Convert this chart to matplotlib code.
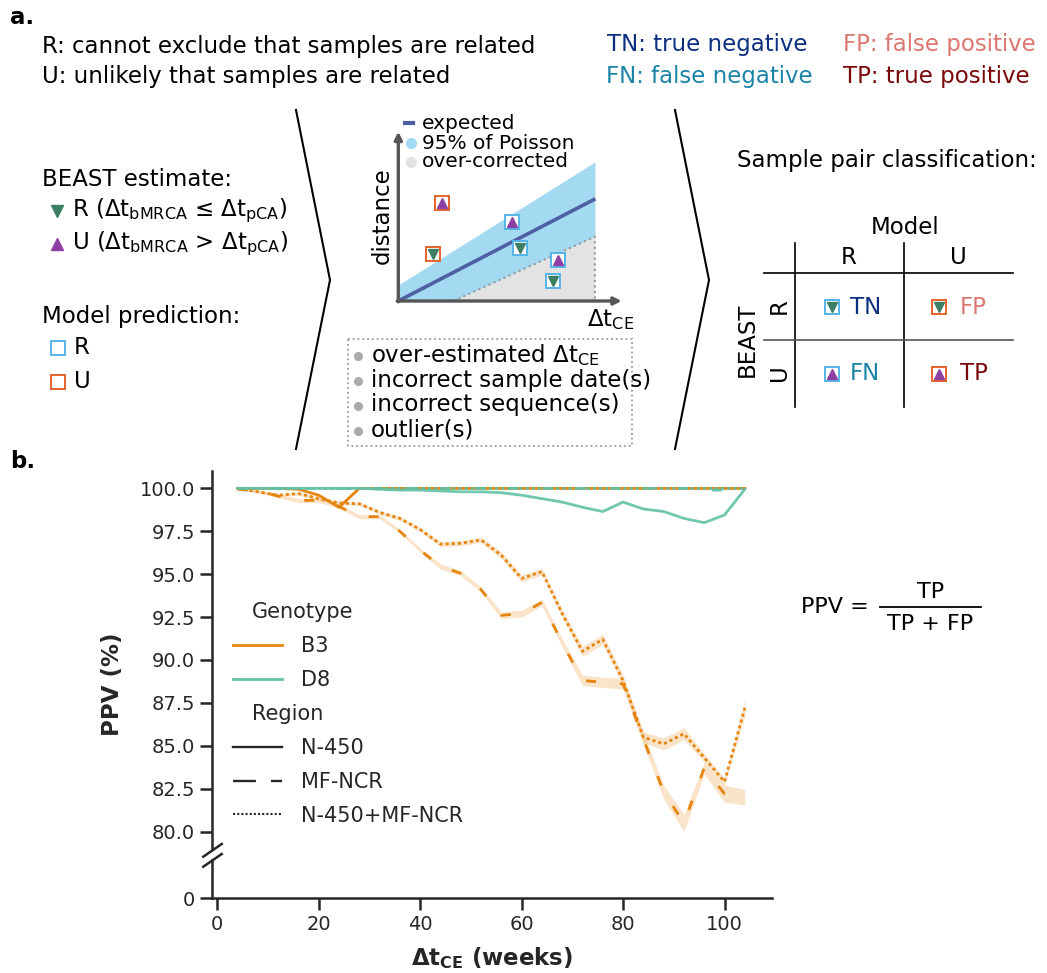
import matplotlib
matplotlib.use("Agg")
import matplotlib.pyplot as plt
import matplotlib.offsetbox as mob
from matplotlib.lines import Line2D
from matplotlib.patches import Rectangle

plt.rcParams['font.family'] = ['DejaVu Sans']
plt.rcParams['mathtext.fontset'] = 'dejavusans'

# ---------------- panel b data ----------------
weeks = [4, 8, 12, 16, 20, 24, 28, 32, 36, 40, 44, 48, 52,
         56, 60, 64, 68, 72, 76, 80, 84, 88, 92, 96, 100, 104]
genotypes = ['B3', 'D8']
regions = ['N-450', 'MF-NCR', 'N-450+MF-NCR']

ppv_b3_n450 = [100, 100, 100, 99.95, 99.6, 98.9, 100, 100, 100, 100, 100, 100, 100,
               100, 100, 100, 100, 100, 100, 100, 100, 100, 100, 100, 100, 100]
ppv_b3_mfncr = [99.95, 99.85, 99.55, 99.3, 99.3, 98.95, 98.35, 98.35, 97.5, 96.4, 95.45, 95.05, 94.1,
                92.6, 92.7, 93.35, 91.0, 88.8, 88.7, 88.6, 85.4, 82.3, 80.5, 83.7, 82.2, 82.0]
ppv_b3_both = [100, 99.8, 99.6, 99.7, 99.4, 99.15, 99.1, 98.6, 98.25, 97.6, 96.75, 96.8, 97.0,
               96.1, 94.75, 95.15, 92.7, 90.5, 91.2, 88.8, 85.5, 85.1, 85.7, 84.3, 82.9, 87.2]
ci_b3_n450 = [0.05] * 26
ci_b3_mfncr = [0.05, 0.08, 0.1, 0.12, 0.12, 0.12, 0.12, 0.12, 0.12, 0.12, 0.15, 0.15, 0.15,
               0.2, 0.2, 0.2, 0.25, 0.3, 0.3, 0.3, 0.35, 0.4, 0.5, 0.35, 0.5, 0.45]
ci_b3_both = [0.05, 0.06, 0.08, 0.1, 0.1, 0.1, 0.1, 0.1, 0.12, 0.12, 0.15, 0.15, 0.15,
              0.2, 0.2, 0.2, 0.25, 0.3, 0.3, 0.3, 0.3, 0.35, 0.35, 0.25, 0.2, 0.5]
ppv_d8_n450 = [100, 100, 100, 100, 100, 100, 100, 99.95, 99.9, 99.9, 99.85, 99.8, 99.8,
               99.75, 99.6, 99.4, 99.2, 98.9, 98.65, 99.2, 98.8, 98.65, 98.25, 98.0, 98.45, 99.95]
ppv_d8_mfncr = [100, 100, 100, 100, 100, 100, 100, 100, 100, 100, 100, 100, 100,
                100, 100, 100, 100, 100, 100, 100, 100, 100, 100, 99.9, 99.9, 100]
ppv_d8_both = [100] * 26
ci_d8 = [0.02] * 26

yticks_top = [80.0, 82.5, 85.0, 87.5, 90.0, 92.5, 95.0, 97.5, 100.0]
xticks_b = [0, 20, 40, 60, 80, 100]

# ---------------- panel a schematic data ----------------
schem_dt = [0, 2.46, 8.8]
schem_upper = [0.76, 2.38, 6.57]
schem_lower = [0.0, 0.0, 3.04]
over_dt = [2.46, 8.8]
over_upper = [0.0, 3.04]
expected_dt = [0, 8.75]
expected_dist = [0, 4.79]
pairs_dt = [1.94, 1.54, 5.08, 5.45, 7.14, 6.94]
pairs_dist = [4.62, 2.22, 3.75, 2.52, 1.94, 0.96]
pairs_beast = ['U', 'R', 'U', 'R', 'U', 'R']
pairs_model = ['U', 'U', 'R', 'R', 'R', 'R']
causes = ['over-estimated Δt$_{\\mathrm{CE}}$', 'incorrect sample date(s)',
          'incorrect sequence(s)', 'outlier(s)']

# ---------------- colours ----------------
ORANGE = '#e6850e'
TEAL = '#62c2a6'
GREEN = '#3d7f63'
PURPLE = '#8e3fa3'
SQ_BLUE = '#55b4e6'
SQ_ORANGE = '#e5622b'
BAND_BLUE = '#a3d9f1'
GRAY_FILL = '#e3e3e3'
EXP_LINE = '#4f5fa3'
C_TN = '#0d2f80'
C_FN = '#1b84a8'
C_FP = '#dc7770'
C_TP = '#7a0a0a'
DARK = '#262626'

W, H = 1047, 973
fig = plt.figure(figsize=(W / 100, H / 100), dpi=100)


def fx(x):
    return x / W


def fy(y):
    return 1 - y / H


FS = 16.5

# ---------------- panel b ----------------
ax_l, ax_r = 211.7, 771.7
axt = fig.add_axes([fx(ax_l), fy(849), (ax_r - ax_l) / W, (849 - 470.7) / H])
axb = fig.add_axes([fx(ax_l), fy(898.3), (ax_r - ax_l) / W, (898.3 - 860) / H])
for a in (axt, axb):
    a.set_xlim(-1.1, 109.3)
    a.patch.set_alpha(0)
    a.spines['top'].set_visible(False)
    a.spines['right'].set_visible(False)
    for s in ('left', 'bottom'):
        a.spines[s].set_linewidth(1.8)
        a.spines[s].set_color(DARK)
    a.tick_params(length=8.5, width=1.8, color=DARK, labelsize=14, labelcolor=DARK)

axt.spines['bottom'].set_visible(False)
axt.tick_params(axis='x', bottom=False, labelbottom=False)
axt.set_ylim(78.98, 101.03)
axt.set_yticks(yticks_top)
axt.set_yticklabels([f'{v:.1f}' for v in yticks_top])
axb.set_ylim(0, 1)
axb.set_yticks([0])
axb.set_yticklabels(['0'])
axb.set_xticks(xticks_b)

geno_color = {'B3': ORANGE, 'D8': TEAL}
region_ls = {'N-450': '-', 'MF-NCR': (0, (3.6, 8.6)), 'N-450+MF-NCR': (0, (1.1, 1.1))}
series = [
    ('B3', 'N-450', ppv_b3_n450, ci_b3_n450),
    ('B3', 'MF-NCR', ppv_b3_mfncr, ci_b3_mfncr),
    ('B3', 'N-450+MF-NCR', ppv_b3_both, ci_b3_both),
    ('D8', 'N-450', ppv_d8_n450, ci_d8),
    ('D8', 'MF-NCR', ppv_d8_mfncr, ci_d8),
    ('D8', 'N-450+MF-NCR', ppv_d8_both, ci_d8),
]
for g, r, vals, ci in series:
    lo = [v - c for v, c in zip(vals, ci)]
    hi = [min(v + c, 100.0) for v, c in zip(vals, ci)]
    axt.fill_between(weeks, lo, hi, color=geno_color[g], alpha=0.22, lw=0)
for g, r, vals, ci in series:
    axt.plot(weeks, vals, color=geno_color[g], lw=2.0, ls=region_ls[r],
             alpha=0.9 if g == 'D8' else 1.0)

handles = [Line2D([], [], visible=False),
           Line2D([], [], color=ORANGE, lw=2.0),
           Line2D([], [], color=TEAL, lw=2.0),
           Line2D([], [], visible=False),
           Line2D([], [], color=DARK, lw=1.7),
           Line2D([], [], color=DARK, lw=1.7, ls=(0, (9.7, 6.4))),
           Line2D([], [], color=DARK, lw=1.5, ls=(0, (1, 1)))]
labels = ['Genotype'] + genotypes + ['Region'] + regions
leg = axt.legend(handles, labels, loc='upper left', bbox_to_anchor=(fx(233), fy(602)),
                 bbox_transform=fig.transFigure, frameon=False, fontsize=15,
                 handlelength=2.35, handletextpad=0.9, labelspacing=0.67,
                 borderpad=0, borderaxespad=0)
for t in leg.get_texts():
    t.set_color(DARK)
vp = leg.findobj(mob.VPacker)[0]
for hpack in vp.get_children():
    draw_area, text_area = hpack.get_children()
    if not all(a.get_visible() for a in draw_area.get_children()):
        draw_area.set_width(0)

fig.text(fx(113), fy(684.5), 'PPV (%)', rotation=90, ha='center', va='center',
         fontsize=16.5, fontweight='bold', color=DARK)
fig.text(fx(491.7), fy(958), r'$\mathbf{\Delta t}_{\mathbf{CE}}$ (weeks)', ha='center',
         va='center', fontsize=16.5, fontweight='bold', color=DARK)

# ---------------- mini schematic plot ----------------
mx0, my0, mx1, my1 = 398.3, 301, 621.7, 131.7
am = fig.add_axes([fx(mx0), fy(my0), (mx1 - mx0) / W, (my0 - my1) / H])
am.set_xlim(0, 10)
am.set_ylim(0, 8)
am.axis('off')
am.fill_between(schem_dt, schem_lower, schem_upper, color=BAND_BLUE, lw=0)
am.fill_between(over_dt, [0, 0], over_upper, color=GRAY_FILL, lw=0)
am.plot([over_dt[0], over_dt[1], over_dt[1]], [0, over_upper[1], 0], ls=':', color='#9a9a9a', lw=1.5)
am.plot(expected_dt, expected_dist, color=EXP_LINE, lw=2.6)
for xx, yy, b, m in zip(pairs_dt, pairs_dist, pairs_beast, pairs_model):
    am.plot(xx, yy, marker='s', ms=10, mfc='white', mec=SQ_BLUE if m == 'R' else SQ_ORANGE,
            mew=1.4, zorder=5)
    am.plot(xx, yy, marker='v' if b == 'R' else '^', ms=7, color=GREEN if b == 'R' else PURPLE,
            zorder=6, ls='none')
arr = dict(arrowstyle='-|>', color='#555555', lw=2.4, mutation_scale=11, shrinkA=0, shrinkB=0)
am.annotate('', xy=(1.0, 0), xytext=(-0.005, 0), xycoords='axes fraction', arrowprops=arr)
am.annotate('', xy=(0, 1.0), xytext=(0, -0.005), xycoords='axes fraction', arrowprops=arr)
am.plot([0.03, 0.066], [1.051, 1.051], transform=am.transAxes, clip_on=False, color=EXP_LINE, lw=3)
am.plot([0.056], [0.931], 'o', transform=am.transAxes, clip_on=False, color=BAND_BLUE, ms=7)
am.plot([0.056], [0.823], 'o', transform=am.transAxes, clip_on=False, color=GRAY_FILL, ms=7)
for yy, lab in zip([1.051, 0.931, 0.823], ['expected', '95% of Poisson', 'over-corrected']):
    am.text(0.105, yy, lab, transform=am.transAxes, fontsize=14.5, va='center', ha='left')

# ---------------- overlay for panel a ----------------
ov = fig.add_axes([0, 0, 1, 1], zorder=10)
ov.set_xlim(0, W)
ov.set_ylim(H, 0)
ov.axis('off')
ov.patch.set_alpha(0)

ov.text(10, 18, 'a.', fontsize=FS, fontweight='bold', va='center', ha='left')
ov.text(10, 462, 'b.', fontsize=FS, fontweight='bold', va='center', ha='left')
ov.text(42, 46, 'R: cannot exclude that samples are related', fontsize=FS, va='center')
ov.text(42, 77, 'U: unlikely that samples are related', fontsize=FS, va='center')
ov.text(607, 45, 'TN: true negative', fontsize=FS, va='center', color=C_TN)
ov.text(606, 77, 'FN: false negative', fontsize=FS, va='center', color=C_FN)
ov.text(843, 45, 'FP: false positive', fontsize=FS, va='center', color=C_FP)
ov.text(843, 77, 'TP: true positive', fontsize=FS, va='center', color=C_TP)

ov.plot([296, 330, 296], [110, 280, 449], color='k', lw=1.5)
ov.plot([675, 709, 675], [110, 280, 449], color='k', lw=1.5)

ov.text(42, 180, 'BEAST estimate:', fontsize=FS, va='center')
ov.plot(57, 211, marker='v', color=GREEN, ms=8)
ov.text(72, 211, r'R (Δt$_{\mathrm{bMRCA}}$ ≤ Δt$_{\mathrm{pCA}}$)', fontsize=FS, va='center')
ov.plot(57, 244, marker='^', color=PURPLE, ms=8)
ov.text(72, 244, r'U (Δt$_{\mathrm{bMRCA}}$ > Δt$_{\mathrm{pCA}}$)', fontsize=FS, va='center')

ov.text(42, 316, 'Model prediction:', fontsize=FS, va='center')
ov.plot(58, 348, marker='s', ms=10, mfc='none', mec=SQ_BLUE, mew=1.4)
ov.text(74, 347, 'R', fontsize=FS, va='center')
ov.plot(58, 382, marker='s', ms=10, mfc='none', mec=SQ_ORANGE, mew=1.4)
ov.text(74, 381, 'U', fontsize=FS, va='center')

ov.text(382, 216, 'distance', fontsize=FS, rotation=90, ha='center', va='center')
ov.text(611, 320, r'Δt$_{\mathrm{CE}}$', fontsize=FS, ha='center', va='center')

ov.add_patch(Rectangle((348, 339), 284, 107, fill=False, ls=':', ec='#9a9a9a', lw=1.3))
for yy, lab in zip([355, 380, 405, 430], causes):
    ov.plot(358, yy + 1, 'o', color='#aaaaaa', ms=5.5)
    ov.text(371, yy, lab, fontsize=FS, va='center')

# classification table
ov.text(737, 160, 'Sample pair classification:', fontsize=FS, va='center')
ov.text(905, 227, 'Model', fontsize=FS, ha='center', va='center')
ov.text(849, 257, 'R', fontsize=FS, ha='center', va='center')
ov.text(958, 257, 'U', fontsize=FS, ha='center', va='center')
ov.text(779, 306, 'R', fontsize=FS, ha='center', va='center', rotation=90)
ov.text(779, 373, 'U', fontsize=FS, ha='center', va='center', rotation=90)
ov.text(747, 340, 'BEAST', fontsize=FS, ha='center', va='center', rotation=90)
ov.plot([795, 795], [243, 407], color='k', lw=1.2)
ov.plot([904, 904], [243, 407], color='k', lw=1.2)
ov.plot([764, 1013], [273, 273], color='k', lw=1.2)
ov.plot([764, 1013], [340, 340], color='#555555', lw=1.2)
cells = [('R', 'R', 'TN', C_TN, 832, 307), ('R', 'U', 'FP', C_FP, 939, 307),
         ('U', 'R', 'FN', C_FN, 832, 374), ('U', 'U', 'TP', C_TP, 939, 374)]
for b, m, lab, col, cx, cy in cells:
    ov.plot(cx, cy, marker='s', ms=10, mfc='white', mec=SQ_BLUE if m == 'R' else SQ_ORANGE, mew=1.4)
    ov.plot(cx, cy, marker='v' if b == 'R' else '^', ms=7, color=GREEN if b == 'R' else PURPLE)
    ov.text(cx + 18 if m == 'R' else cx + 21, cy, lab, fontsize=FS, va='center', color=col)

# PPV formula
ov.text(801, 607, 'PPV =', fontsize=16, va='center', ha='left')
ov.text(930.5, 592, 'TP', fontsize=16, va='center', ha='center')
ov.plot([880, 981], [607, 607], color='k', lw=1.3)
ov.text(930.5, 624, 'TP + FP', fontsize=16, va='center', ha='center')

# axis break marks
ov.plot([203.3, 221.7], [856.7, 844], color=DARK, lw=1.8)
ov.plot([203.3, 221.7], [866.7, 854], color=DARK, lw=1.8)

fig.savefig('out.png', dpi=100)
